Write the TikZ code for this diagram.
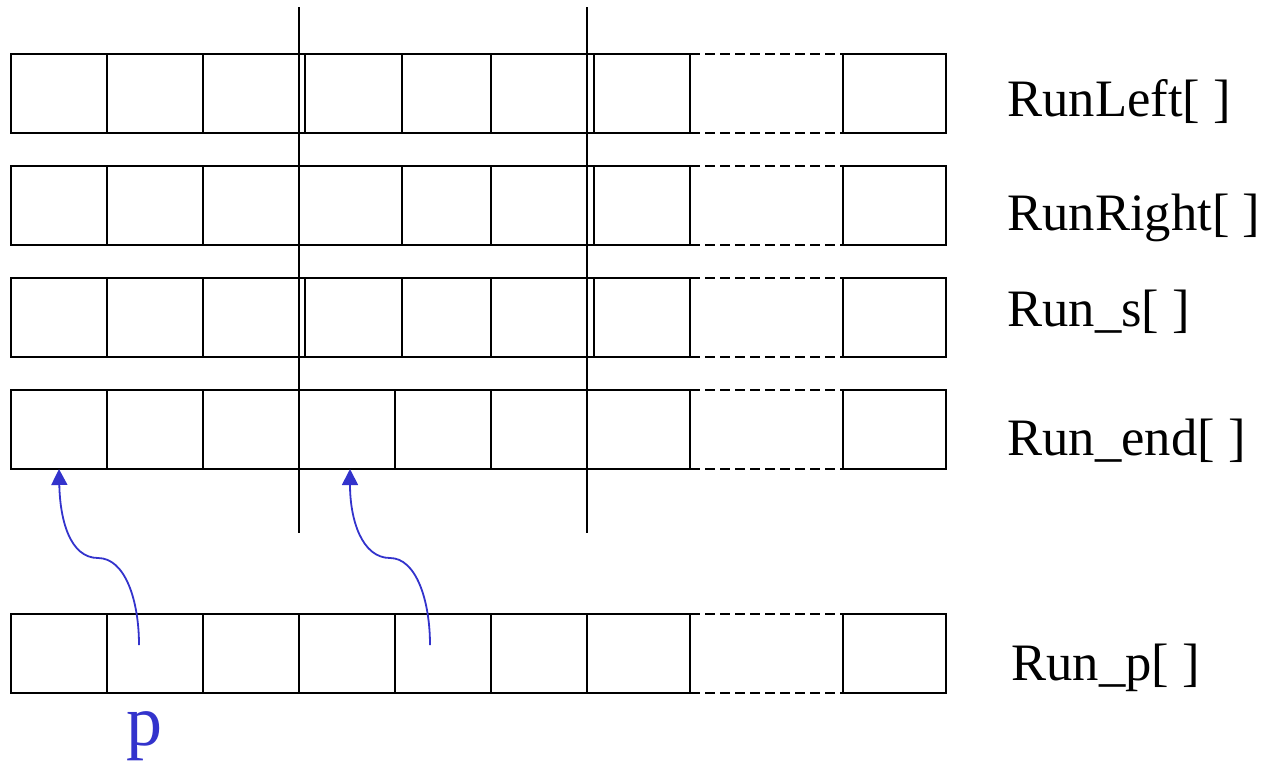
\documentclass[tikz,border=0pt]{standalone}
\usepackage{fontspec}
\setmainfont{Liberation Serif}
\usetikzlibrary{arrows.meta}
\definecolor{ptrblue}{RGB}{51,51,204}
\newcommand\mkcell[5]{\node[cell, minimum width={(#3-#2)*0.5pt}, minimum height={(#5-#4)*0.5pt}] (#1) at ({(#2+#3)/2},{(#4+#5)/2}) {};}
\begin{document}
\begin{tikzpicture}[x=0.5pt,y=-0.5pt, line width=1.45pt,
  cell/.style={draw, rectangle, inner sep=0pt, outer sep=0pt},
  gapline/.style={dash pattern=on 5pt off 2.5pt},
  lab/.style={anchor=base west, inner sep=0pt, font=\fontsize{26.3}{30}\selectfont},
  ptr/.style={draw=ptrblue, line width=0.9pt, -{Triangle[length=8pt,width=8pt]}}]
\useasboundingbox (0,0) rectangle (1262,762);
% rows: name, top, bottom, split positions of the fourth cell
\foreach \r/\t/\b/\sa/\sb in {a/54/133/299/402, b/166/245/299/402, c/278/357/299/402, d/390/469/299/395, e/614/693/299/395}{
  \mkcell{\r1}{11}{107}{\t}{\b}
  \mkcell{\r2}{107}{203}{\t}{\b}
  \mkcell{\r3}{203}{299}{\t}{\b}
  \mkcell{\r4}{\sa}{\sb}{\t}{\b}
  \mkcell{\r5}{\sb}{491}{\t}{\b}
  \mkcell{\r6}{491}{587}{\t}{\b}
  \mkcell{\r7}{587}{690}{\t}{\b}
  \mkcell{\r8}{843}{946}{\t}{\b}
  \draw[gapline] (\r7.north east) -- (\r8.north west);
  \draw[gapline] (\r7.south east) -- (\r8.south west);
}
% extra inner dividers
\foreach \r in {a,c}{
  \draw ([xshift=3pt]\r4.north west) -- ([xshift=3pt]\r4.south west);
}
\foreach \r in {a,b,c}{
  \draw ([xshift=3.5pt]\r7.north west) -- ([xshift=3.5pt]\r7.south west);
}
% long vertical separators
\coordinate (v1t) at (299,7);
\coordinate (v1b) at (299,533);
\coordinate (v2t) at (587,7);
\coordinate (v2b) at (587,533);
\draw (v1t) -- (v1b);
\draw (v2t) -- (v2b);
% labels
\node[lab] (la) at (1006,116) {RunLeft[ ]};
\node[lab] (lb) at (1006,230) {RunRight[ ]};
\node[lab] (lc) at (1006,326) {Run\_s[ ]};
\node[lab] (ld) at (1006,455) {Run\_end[ ]};
\node[lab] (le) at (1010,680) {Run\_p[ ]};
% pointer label
\node[anchor=base, inner sep=0pt, text=ptrblue, font=\fontsize{36}{40}\selectfont] (pl) at (144,745) {p};
% pointers
\coordinate (s1) at (139,645);
\coordinate (s2) at (430,645);
\draw[ptr] (s1) .. controls (139,600) and (125,558) .. (98,558) .. controls (70,558) and (60,520) .. (d1.south);
\draw[ptr] (s2) .. controls (430,600) and (416,558) .. (390,558) .. controls (362,558) and (350,520) .. ([xshift=1.5pt]d4.south);
\end{tikzpicture}
\end{document}
